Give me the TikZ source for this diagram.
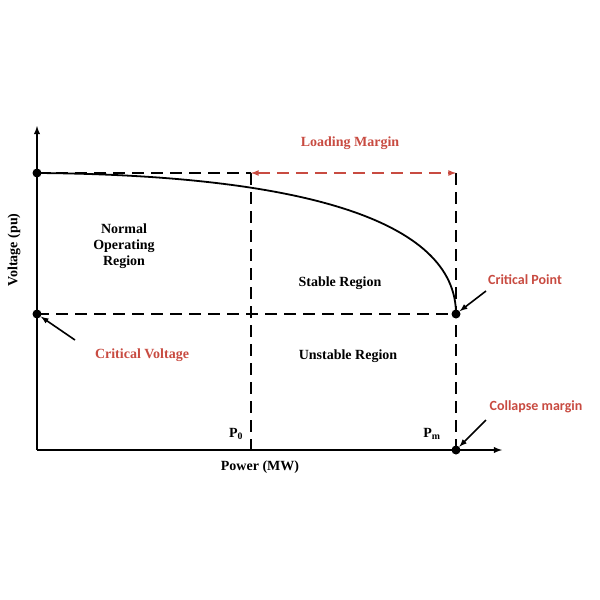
\documentclass[tikz,border=0pt]{standalone}
\usepackage{fontspec}
\setmainfont{Liberation Serif}
\newfontfamily\carlitofont{Carlito}
\begin{document}
\begin{tikzpicture}[x=1pt,y=-1pt,
  dsh/.style={line width=1.6pt,dash pattern=on 12pt off 7pt},
  lbl/.style={font=\fontsize{14}{16}\selectfont\bfseries,align=center},
  red/.style={text=redc},
  dot/.style={circle,fill=black,inner sep=0pt,minimum size=9pt}]
\definecolor{redc}{RGB}{200,75,65}
\useasboundingbox (0,0) rectangle (600,600);
\coordinate (O) at (37,450);
\coordinate (Y) at (37,126);
\coordinate (X) at (502,450);
\draw[line width=1.8pt,-latex] (O) -- (Y);
\draw[line width=1.8pt,-latex] (O) -- (X);
\node[dot] (A) at (37,173) {};
\node[dot] (B) at (37,314) {};
\node[dot] (C) at (456,314) {};
\node[dot] (D) at (456,450) {};
\coordinate (T0) at (251,173);
\coordinate (T1) at (456,173);
\coordinate (P0b) at (251,450);
\draw[line width=1.8pt] (A.center) .. controls (300,175) and (456,220) .. (C.center);
\draw[dsh] (A.center) -- (T0);
\draw[dsh] (T0) -- (P0b);
\draw[dsh] (T1) -- (D.center);
\draw[dsh] (B.center) -- (C.center);
\draw[dsh,draw=redc,latex-latex] (T0) -- (T1);
\node[lbl,red] (lm) at (350,143) {Loading Margin};
\node[lbl] at (124,246) {Normal\\Operating\\Region};
\node[lbl] at (340,283) {Stable Region};
\node[lbl] at (348,356) {Unstable Region};
\node[lbl] at (236,434) {P\textsubscript{0}};
\node[lbl] at (432,434) {P\textsubscript{m}};
\node[lbl] at (260,467) {Power (MW)};
\node[lbl,rotate=90] at (14,250) {Voltage (pu)};
\node[lbl,red] (cv) at (142,355) {Critical Voltage};
\node[lbl,red,font=\fontsize{14}{16}\selectfont\bfseries\carlitofont] (cp) at (525,280) {Critical Point};
\node[lbl,red,font=\fontsize{14}{16}\selectfont\bfseries\carlitofont] (cm) at (536,407) {Collapse margin};
\draw[line width=1.6pt,-latex] (75,340) -- (B);
\draw[line width=1.6pt,-latex] (486,291) -- (C);
\draw[line width=1.6pt,-latex] (486,420) -- (D);
\end{tikzpicture}
\end{document}
